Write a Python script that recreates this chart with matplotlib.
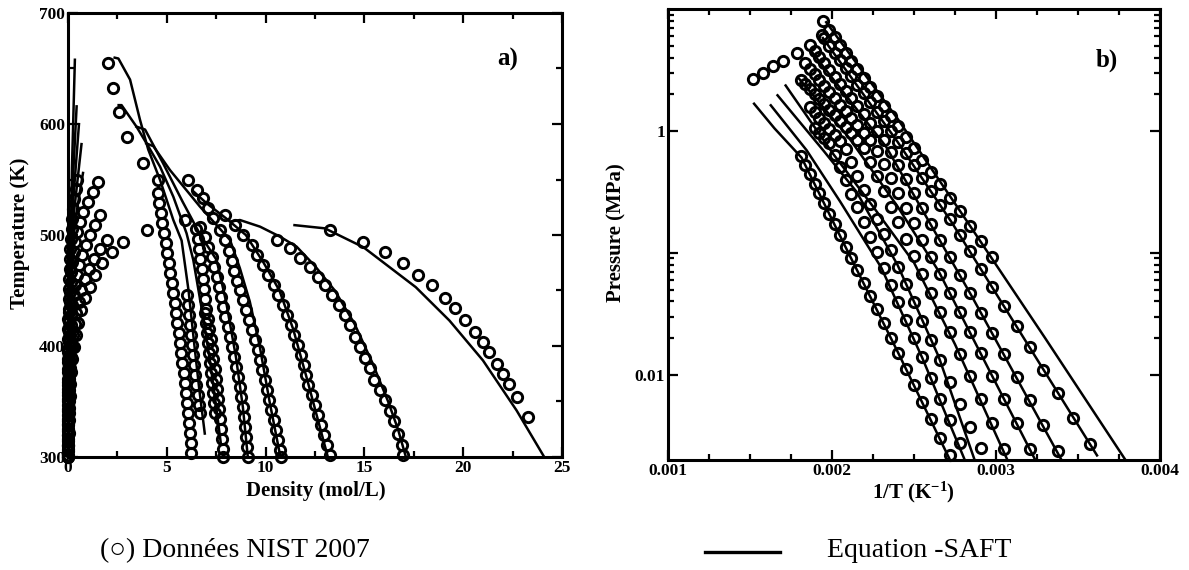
import numpy as np
import matplotlib
matplotlib.use("Agg")
import matplotlib.pyplot as plt
from matplotlib.ticker import FixedLocator, FixedFormatter, NullFormatter

plt.rcParams['font.family'] = ['Liberation Serif', 'DejaVu Serif']
plt.rcParams['mathtext.fontset'] = 'custom'
plt.rcParams['mathtext.rm'] = 'Liberation Serif:bold'
plt.rcParams['mathtext.it'] = 'Liberation Serif:bold'
plt.rcParams['mathtext.bf'] = 'Liberation Serif:bold'

# ---------------- Panel a) : T vs density ----------------
# NIST liquid branches (density mol/L, T K)
liqA_rho = [13.26, 14.95, 16.04, 16.97, 17.73, 18.40, 19.08, 19.60, 20.10, 20.60, 21.00, 21.30, 21.70, 22.00, 22.30, 22.70, 23.30]
liqA_T = [504.5, 494, 485, 474.5, 464, 455, 443, 434, 423, 413, 404, 395, 384, 375, 366, 354, 336]
liqB_rho = [10.56, 11.23, 11.74, 12.25, 12.67, 13.00, 13.34, 13.70, 14.00, 14.27, 14.50, 14.78, 15.03, 15.28, 15.50, 15.80, 16.04, 16.30, 16.50, 16.70, 16.90, 16.97]
liqB_T = [495.5, 488, 479, 471, 462, 455, 446, 437, 428, 419, 408, 399, 389, 380, 369, 360, 351, 341, 332, 321, 311, 302]
liqC_rho = [7.95, 8.45, 8.87, 9.29, 9.58, 9.85, 10.12, 10.40, 10.64, 10.86, 11.07, 11.27, 11.45, 11.62, 11.78, 11.93, 12.05, 12.17, 12.33, 12.50, 12.65, 12.82, 12.97, 13.12, 13.26]
liqC_T = [518, 509, 500, 491, 482, 473, 464, 455, 446, 437, 428, 419, 410, 401, 392, 383, 374, 365, 356, 347, 338, 329, 320, 311, 302]
liqD_rho = [6.09, 6.51, 6.85, 7.10, 7.35, 7.69, 7.95, 8.15, 8.30, 8.42, 8.54, 8.70, 8.85, 9.00, 9.17, 9.32, 9.47, 9.60, 9.72, 9.84, 9.95, 10.05, 10.17, 10.28, 10.40, 10.52, 10.62, 10.73, 10.80]
liqD_T = [549.5, 540.5, 533, 524, 515, 504.5, 495.5, 486, 477, 468, 459, 450, 441, 432, 423, 414, 405, 396, 387, 378, 369, 360, 351, 342, 333, 324, 315, 306, 300]
liqE_rho = [5.92, 6.68, 6.93, 7.10, 7.28, 7.40, 7.52, 7.64, 7.75, 7.86, 7.97, 8.08, 8.18, 8.30, 8.40, 8.50, 8.60, 8.68, 8.77, 8.85, 8.92, 8.98, 9.03, 9.08, 9.12]
liqE_T = [513.5, 507.5, 498.5, 489.5, 480, 471, 462, 453, 444, 435, 426, 417, 408, 399, 390, 381, 372, 363, 354, 345, 336, 327, 318, 309, 300]
liqF_rho = [6.50, 6.60, 6.65, 6.70, 6.76, 6.82, 6.88, 6.94, 7.00, 7.08, 7.15, 7.22, 7.28, 7.35, 7.42, 7.48, 7.53, 7.58, 7.63, 7.68, 7.73, 7.78, 7.83, 7.86]
liqF_T = [505, 496, 487, 478, 469, 460, 451, 442, 433, 424, 415, 406, 397, 388, 379, 370, 361, 352, 343, 334, 325, 316, 307, 300]
liqG_rho = [4.57, 4.57, 4.62, 4.70, 4.78, 4.87, 4.95, 5.03, 5.10, 5.18, 5.25, 5.33, 5.40, 5.47, 5.54, 5.60, 5.67, 5.73, 5.79, 5.85, 5.90, 5.96, 6.01, 6.06, 6.11, 6.16, 6.20, 6.24]
liqG_T = [549.5, 538, 529, 520, 511, 502, 493, 484, 475, 466, 457, 448, 439, 430, 421, 412, 403, 394, 385, 376, 367, 358, 349, 340, 331, 322, 313, 304]
liqH1_rho = [6.00, 6.05, 6.10, 6.15, 6.20, 6.26, 6.32, 6.38, 6.44, 6.50, 6.56, 6.62, 6.68]
liqH1_T = [446, 437, 428, 419, 410, 401, 392, 383, 374, 365, 356, 347, 340]
liqH2_rho = [6.93, 6.98, 7.03, 7.08, 7.13, 7.18, 7.23, 7.28, 7.33, 7.38, 7.43]
liqH2_T = [430, 421, 412, 403, 394, 385, 376, 367, 358, 349, 340]
crit_rho = [2.04, 2.29, 2.60, 2.97, 3.81, 3.98]
crit_T = [655, 632, 611, 588, 564.6, 504.5]

# NIST vapour branches
vapA_rho = [2.80, 2.21, 1.70, 1.37, 1.11, 0.86, 0.68, 0.52, 0.40, 0.30, 0.22, 0.16, 0.12, 0.08, 0.06, 0.04, 0.03, 0.02, 0.01]
vapA_T = [494, 485, 474.5, 464, 453, 443, 432, 421, 410, 399, 388, 377, 366, 355, 344, 333, 322, 311, 300]
vapB_rho = [1.96, 1.60, 1.30, 1.05, 0.85, 0.68, 0.54, 0.42, 0.33, 0.25, 0.19, 0.14, 0.10, 0.07, 0.05, 0.04, 0.03, 0.02, 0.015, 0.01, 0.01]
vapB_T = [495.5, 487, 478, 469, 460, 450, 440, 430, 420, 410, 400, 390, 380, 370, 360, 350, 340, 330, 320, 310, 300]
vapC_rho = [1.62, 1.37, 1.11, 0.90, 0.72, 0.58, 0.46, 0.36, 0.28, 0.22, 0.17, 0.13, 0.10, 0.08, 0.06, 0.045, 0.035, 0.025, 0.02, 0.015, 0.01, 0.008, 0.006, 0.005, 0.004]
vapC_T = [518, 509, 500, 491, 482, 473, 464, 455, 446, 437, 428, 419, 410, 401, 392, 383, 374, 365, 356, 347, 338, 329, 320, 311, 302]
vapD_rho = [1.53, 1.28, 1.03, 0.78, 0.60, 0.46, 0.36, 0.28, 0.22, 0.17, 0.13, 0.10, 0.08, 0.06, 0.045, 0.035, 0.027, 0.02, 0.015, 0.011, 0.008, 0.006, 0.004, 0.003, 0.002, 0.002, 0.001, 0.001]
vapD_T = [548, 539, 530, 521, 512, 503, 494, 485, 476, 467, 458, 449, 440, 431, 422, 413, 404, 395, 386, 377, 368, 359, 350, 341, 332, 323, 314, 305]
vapE_rho = [0.45, 0.38, 0.32, 0.27, 0.22, 0.18, 0.15, 0.12, 0.10, 0.08, 0.065, 0.05, 0.04, 0.03, 0.025, 0.02, 0.015, 0.01, 0.008, 0.006, 0.004, 0.003, 0.002, 0.002, 0.001, 0.001, 0.001, 0.001]
vapE_T = [550, 541, 532, 523, 514, 505, 496, 487, 478, 469, 460, 451, 442, 433, 424, 415, 406, 397, 388, 379, 370, 361, 352, 343, 334, 325, 316, 307]

# SAFT liquid-side curves
safA_rho = [11.4, 13.0, 14.95, 17.6, 19.3, 21.0, 22.7, 24.1]
safA_T = [509, 506, 489, 453, 423, 387, 342, 300]
safB_rho = [8.2, 8.7, 9.72, 10.73, 11.57, 12.5, 13.5, 14.5, 15.4, 16.2, 16.7, 17.1]
safB_T = [512, 513.5, 507.5, 498.5, 489.5, 472, 450, 420, 385, 350, 325, 300]
safC_rho = [6.30, 7.02, 8.00, 9.00, 9.90, 10.70, 11.40, 12.10, 12.70, 13.15]
safC_T = [540, 528.5, 515, 500, 475, 450, 415, 370, 330, 300]
safD_rho = [3.90, 4.32, 5.16, 6.68, 8.20, 8.70, 9.20, 9.70, 10.20, 10.75]
safD_T = [583, 580, 558.5, 525.5, 495.5, 470, 440, 400, 350, 300]
safE_rho = [3.40, 3.90, 4.80, 5.80, 6.70, 7.52, 8.00, 8.50, 8.85, 9.10]
safE_T = [598, 595, 565, 530, 500, 477.5, 440, 390, 345, 300]
safF_rho = [2.50, 2.71, 3.47, 4.06, 4.66, 5.33, 6.00, 6.34, 6.80, 7.20, 7.50, 7.75]
safF_T = [617, 617, 597.5, 580, 561.5, 534.5, 501.5, 477.5, 430, 385, 345, 310]
safG_rho = [2.30, 2.55, 3.14, 3.64, 4.06, 4.66, 5.33, 5.75, 6.10, 6.40, 6.65, 6.93]
safG_T = [660, 659, 640, 604, 577, 549.5, 513.5, 495, 450, 400, 360, 320]
# SAFT vapour-side curves
vsaf1_rho = [0.02, 0.10, 0.20, 0.35]
vsaf1_T = [300, 450, 560, 659]
vsaf2_rho = [0.02, 0.10, 0.22, 0.44]
vsaf2_T = [300, 450, 540, 617]
vsaf3_rho = [0.02, 0.12, 0.26, 0.56]
vsaf3_T = [300, 450, 530, 601]
vsaf4_rho = [0.02, 0.14, 0.30, 0.69]
vsaf4_T = [300, 450, 520, 583]
vsaf5_rho = [0.02, 0.16, 0.34, 0.77]
vsaf5_T = [300, 450, 510, 557]

# ---------------- Panel b) : P vs 1/T ----------------
p1_T = [504, 496, 488, 480, 472, 464, 456, 448, 440, 432, 424, 416, 408, 400, 392, 384, 376, 368, 360, 352, 344, 336]
p1_logP = [0.828, 0.768, 0.706, 0.642, 0.576, 0.508, 0.437, 0.363, 0.287, 0.208, 0.126, 0.042, -0.047, -0.139, -0.235, -0.334, -0.438, -0.547, -0.660, -0.778, -0.902, -1.032]
p2_T = [512, 504, 496, 488, 480, 472, 464, 456, 448, 440, 432, 424, 416, 408, 400, 392, 384, 376, 368, 360, 352, 344, 336, 328, 320, 312, 304, 296, 288, 280]
p2_logP = [0.759, 0.700, 0.640, 0.578, 0.514, 0.448, 0.379, 0.308, 0.234, 0.158, 0.079, -0.003, -0.088, -0.182, -0.282, -0.385, -0.494, -0.606, -0.723, -0.852, -0.988, -1.131, -1.281, -1.437, -1.602, -1.775, -1.957, -2.149, -2.351, -2.566]
p3_T = [528, 520, 512, 504, 496, 488, 480, 472, 464, 456, 448, 440, 432, 424, 416, 408, 400, 392, 384, 376, 368, 360, 352, 344, 336, 328, 320, 312, 304, 296]
p3_logP = [0.659, 0.608, 0.556, 0.501, 0.446, 0.388, 0.328, 0.266, 0.202, 0.136, 0.068, -0.003, -0.077, -0.170, -0.280, -0.393, -0.511, -0.634, -0.762, -0.896, -1.035, -1.180, -1.332, -1.491, -1.658, -1.833, -2.016, -2.209, -2.412, -2.626]
p4_T = [544, 536, 528, 520, 512, 504, 496, 488, 480, 472, 464, 456, 448, 440, 432, 424, 416, 408, 400, 392, 384, 376, 368, 360, 352, 344, 336, 328, 320, 312]
p4_logP = [0.554, 0.510, 0.465, 0.418, 0.370, 0.320, 0.269, 0.216, 0.161, 0.105, 0.046, -0.015, -0.077, -0.163, -0.274, -0.388, -0.507, -0.630, -0.759, -0.892, -1.032, -1.177, -1.328, -1.487, -1.652, -1.825, -2.006, -2.197, -2.396, -2.606]
p5_T = [552, 544, 536, 528, 520, 512, 504, 496, 488, 480, 472, 464, 456, 448, 440, 432, 424, 416, 408, 400, 392, 384, 376, 368, 360, 352, 344, 336, 328]
p5_logP = [0.421, 0.383, 0.344, 0.303, 0.261, 0.218, 0.174, 0.128, 0.080, 0.031, -0.019, -0.072, -0.144, -0.256, -0.373, -0.494, -0.620, -0.750, -0.886, -1.027, -1.174, -1.327, -1.486, -1.653, -1.827, -2.008, -2.198, -2.398, -2.607]
p6_T = [536, 528, 520, 512, 504, 496, 488, 480, 472, 464, 456, 448, 440, 432, 424, 416, 408, 400, 392, 384, 376, 368, 360, 352, 344]
p6_logP = [0.196, 0.153, 0.110, 0.065, 0.018, -0.030, -0.079, -0.152, -0.258, -0.368, -0.481, -0.599, -0.721, -0.847, -0.978, -1.114, -1.256, -1.403, -1.556, -1.716, -1.882, -2.056, -2.237, -2.426, -2.600]
p7_T = [528, 520, 512, 504, 496, 488, 480, 472, 464, 456, 448, 440, 432, 424, 416, 408, 400, 392, 384, 376, 368, 360]
p7_logP = [0.026, -0.016, -0.059, -0.103, -0.196, -0.299, -0.405, -0.515, -0.628, -0.746, -0.867, -0.993, -1.124, -1.260, -1.401, -1.547, -1.699, -1.858, -2.023, -2.195, -2.375, -2.562]
p8_T = [552, 544, 536, 528, 520, 512, 504, 496, 488, 480, 472, 464, 456, 448, 440, 432, 424, 416, 408, 400, 392, 384, 376, 368]
p8_logP = [-0.209, -0.281, -0.356, -0.433, -0.512, -0.594, -0.678, -0.765, -0.855, -0.948, -1.044, -1.144, -1.247, -1.353, -1.463, -1.578, -1.697, -1.820, -1.949, -2.082, -2.221, -2.365, -2.516, -2.660]
pc_T = [657.9, 632.5, 609.0, 587.2, 560.2, 535.9, 516.3, 513.6]
pc_logP = [0.422, 0.476, 0.531, 0.577, 0.639, 0.708, 0.789, 0.898]

# SAFT curves (1/T in K^-1, log10 P)
s1_x = [0.00196, 0.00240, 0.00282, 0.00330, 0.00379]
s1_logP = [0.90, 0.10, -0.735, -1.70, -2.70]
s2_x = [0.00194, 0.00240, 0.00273, 0.00320, 0.00362]
s2_logP = [0.77, -0.09, -0.75, -1.765, -2.67]
s3_x = [0.00187, 0.00233, 0.00285, 0.00340]
s3_logP = [0.66, -0.13, -1.35, -2.70]
s4_x = [0.001795, 0.00210, 0.00240, 0.00265, 0.00295, 0.00324]
s4_logP = [0.435, -0.05, -0.62, -1.15, -1.94, -2.70]
s5_x = [0.001713, 0.002008, 0.00225, 0.00250, 0.00275, 0.00307]
s5_logP = [0.381, -0.19, -0.62, -1.08, -1.75, -2.70]
s6_x = [0.001663, 0.001947, 0.00215, 0.00240, 0.00265, 0.00287]
s6_logP = [0.30, -0.16, -0.50, -1.10, -1.85, -2.70]
s7_x = [0.001622, 0.001846, 0.00205, 0.00230, 0.00255, 0.00281]
s7_logP = [0.218, -0.16, -0.58, -1.12, -1.86, -2.70]
s8_x = [0.00152, 0.00165, 0.001815, 0.00210, 0.00240, 0.00272]
s8_logP = [0.231, 0.02, -0.22, -1.00, -1.81, -2.70]

# ---------------- drawing ----------------
W, H = 1189, 570
fig = plt.figure(figsize=(W / 100, H / 100), dpi=100)

def px_axes(x0, y0, x1, y1):
    return fig.add_axes([x0 / W, 1 - y1 / H, (x1 - x0) / W, (y1 - y0) / H])

axa = px_axes(68, 13, 562, 457)
axb = px_axes(668, 9, 1160, 460)

mk = dict(linestyle='none', marker='o', mfc='none', mec='black', ms=7.4, mew=2.1, clip_on=False, zorder=3)
ln = dict(color='black', lw=1.8, zorder=2, solid_capstyle='butt')

for r, t in [(safA_rho, safA_T), (safB_rho, safB_T), (safC_rho, safC_T), (safD_rho, safD_T),
             (safE_rho, safE_T), (safF_rho, safF_T), (safG_rho, safG_T),
             (vsaf1_rho, vsaf1_T), (vsaf2_rho, vsaf2_T), (vsaf3_rho, vsaf3_T),
             (vsaf4_rho, vsaf4_T), (vsaf5_rho, vsaf5_T)]:
    axa.plot(r, t, **ln)
for r, t in [(liqA_rho, liqA_T), (liqB_rho, liqB_T), (liqC_rho, liqC_T), (liqD_rho, liqD_T),
             (liqE_rho, liqE_T), (liqF_rho, liqF_T), (liqG_rho, liqG_T), (liqH1_rho, liqH1_T),
             (liqH2_rho, liqH2_T), (crit_rho, crit_T), (vapA_rho, vapA_T), (vapB_rho, vapB_T),
             (vapC_rho, vapC_T), (vapD_rho, vapD_T), (vapE_rho, vapE_T)]:
    axa.plot(r, t, **mk)

axa.set_xlim(0, 25)
axa.set_ylim(300, 700)
axa.xaxis.set_major_locator(FixedLocator([0, 5, 10, 15, 20, 25]))
axa.xaxis.set_minor_locator(FixedLocator([2.5, 7.5, 12.5, 17.5, 22.5]))
axa.yaxis.set_major_locator(FixedLocator([300, 400, 500, 600, 700]))
axa.yaxis.set_minor_locator(FixedLocator([350, 450, 550, 650]))

for xs, ys in [(s1_x, s1_logP), (s2_x, s2_logP), (s3_x, s3_logP), (s4_x, s4_logP),
               (s5_x, s5_logP), (s6_x, s6_logP), (s7_x, s7_logP), (s8_x, s8_logP)]:
    axb.plot(xs, 10 ** np.array(ys), **ln)
for ts, ys in [(p1_T, p1_logP), (p2_T, p2_logP), (p3_T, p3_logP), (p4_T, p4_logP),
               (p5_T, p5_logP), (p6_T, p6_logP), (p7_T, p7_logP), (p8_T, p8_logP), (pc_T, pc_logP)]:
    axb.plot(1.0 / np.array(ts), 10 ** np.array(ys), **mk)

axb.set_yscale('log')
axb.set_xlim(0.001, 0.004)
axb.set_ylim(0.002, 10)
axb.xaxis.set_major_locator(FixedLocator([0.001, 0.002, 0.003, 0.004]))
axb.xaxis.set_major_formatter(FixedFormatter(['0.001', '0.002', '0.003', '0.004']))
axb.xaxis.set_minor_locator(FixedLocator([0.00125, 0.0015, 0.00175, 0.00225, 0.0025, 0.00275, 0.00325, 0.0035, 0.00375]))
axb.yaxis.set_major_locator(FixedLocator([0.01, 0.1, 1]))
axb.yaxis.set_major_formatter(FixedFormatter(['0.01', '', '1']))
axb.yaxis.set_minor_locator(FixedLocator([0.02, 0.03, 0.04, 0.05, 0.06, 0.07, 0.08, 0.09,
                                          2, 3, 4, 5, 6, 7, 8, 9]))
axb.yaxis.set_minor_formatter(NullFormatter())

for ax in (axa, axb):
    for s in ax.spines.values():
        s.set_linewidth(2.2)
    ax.tick_params(which='both', direction='in', top=True, right=True, width=1.6)
    ax.tick_params(which='major', length=7, labelsize=12.5, pad=2)
    ax.tick_params(which='minor', length=4.5)
    for lab in ax.get_xticklabels() + ax.get_yticklabels():
        lab.set_fontweight('bold')

axa.text(0.89, 0.895, 'a)', transform=axa.transAxes, fontsize=18, fontweight='bold', ha='center', va='center')
axb.text(0.892, 0.887, 'b)', transform=axb.transAxes, fontsize=18, fontweight='bold', ha='center', va='center')

fig.text(20 / W, 1 - 233 / H, 'Temperature (K)', rotation=90, ha='center', va='center', fontsize=15, fontweight='bold')
fig.text(316 / W, 1 - 491 / H, 'Density (mol/L)', ha='center', va='center', fontsize=15, fontweight='bold')
fig.text(616 / W, 1 - 233 / H, 'Pressure (MPa)', rotation=90, ha='center', va='center', fontsize=15, fontweight='bold')
fig.text(913 / W, 1 - 492 / H, r'1/T (K$^{-1}$)', ha='center', va='center', fontsize=15, fontweight='bold')

fig.text(100 / W, 1 - 557 / H, '(\u25cb) Données NIST 2007', ha='left', va='baseline', fontsize=20,
         family=['Liberation Serif', 'DejaVu Serif'])
fig.text(827 / W, 1 - 557 / H, 'Equation -SAFT', ha='left', va='baseline', fontsize=20)
fig.add_artist(plt.Line2D([705 / W, 780 / W], [1 - 552 / H, 1 - 552 / H], color='black', lw=2.4,
                          transform=fig.transFigure))

fig.savefig('out.png', dpi=100)
